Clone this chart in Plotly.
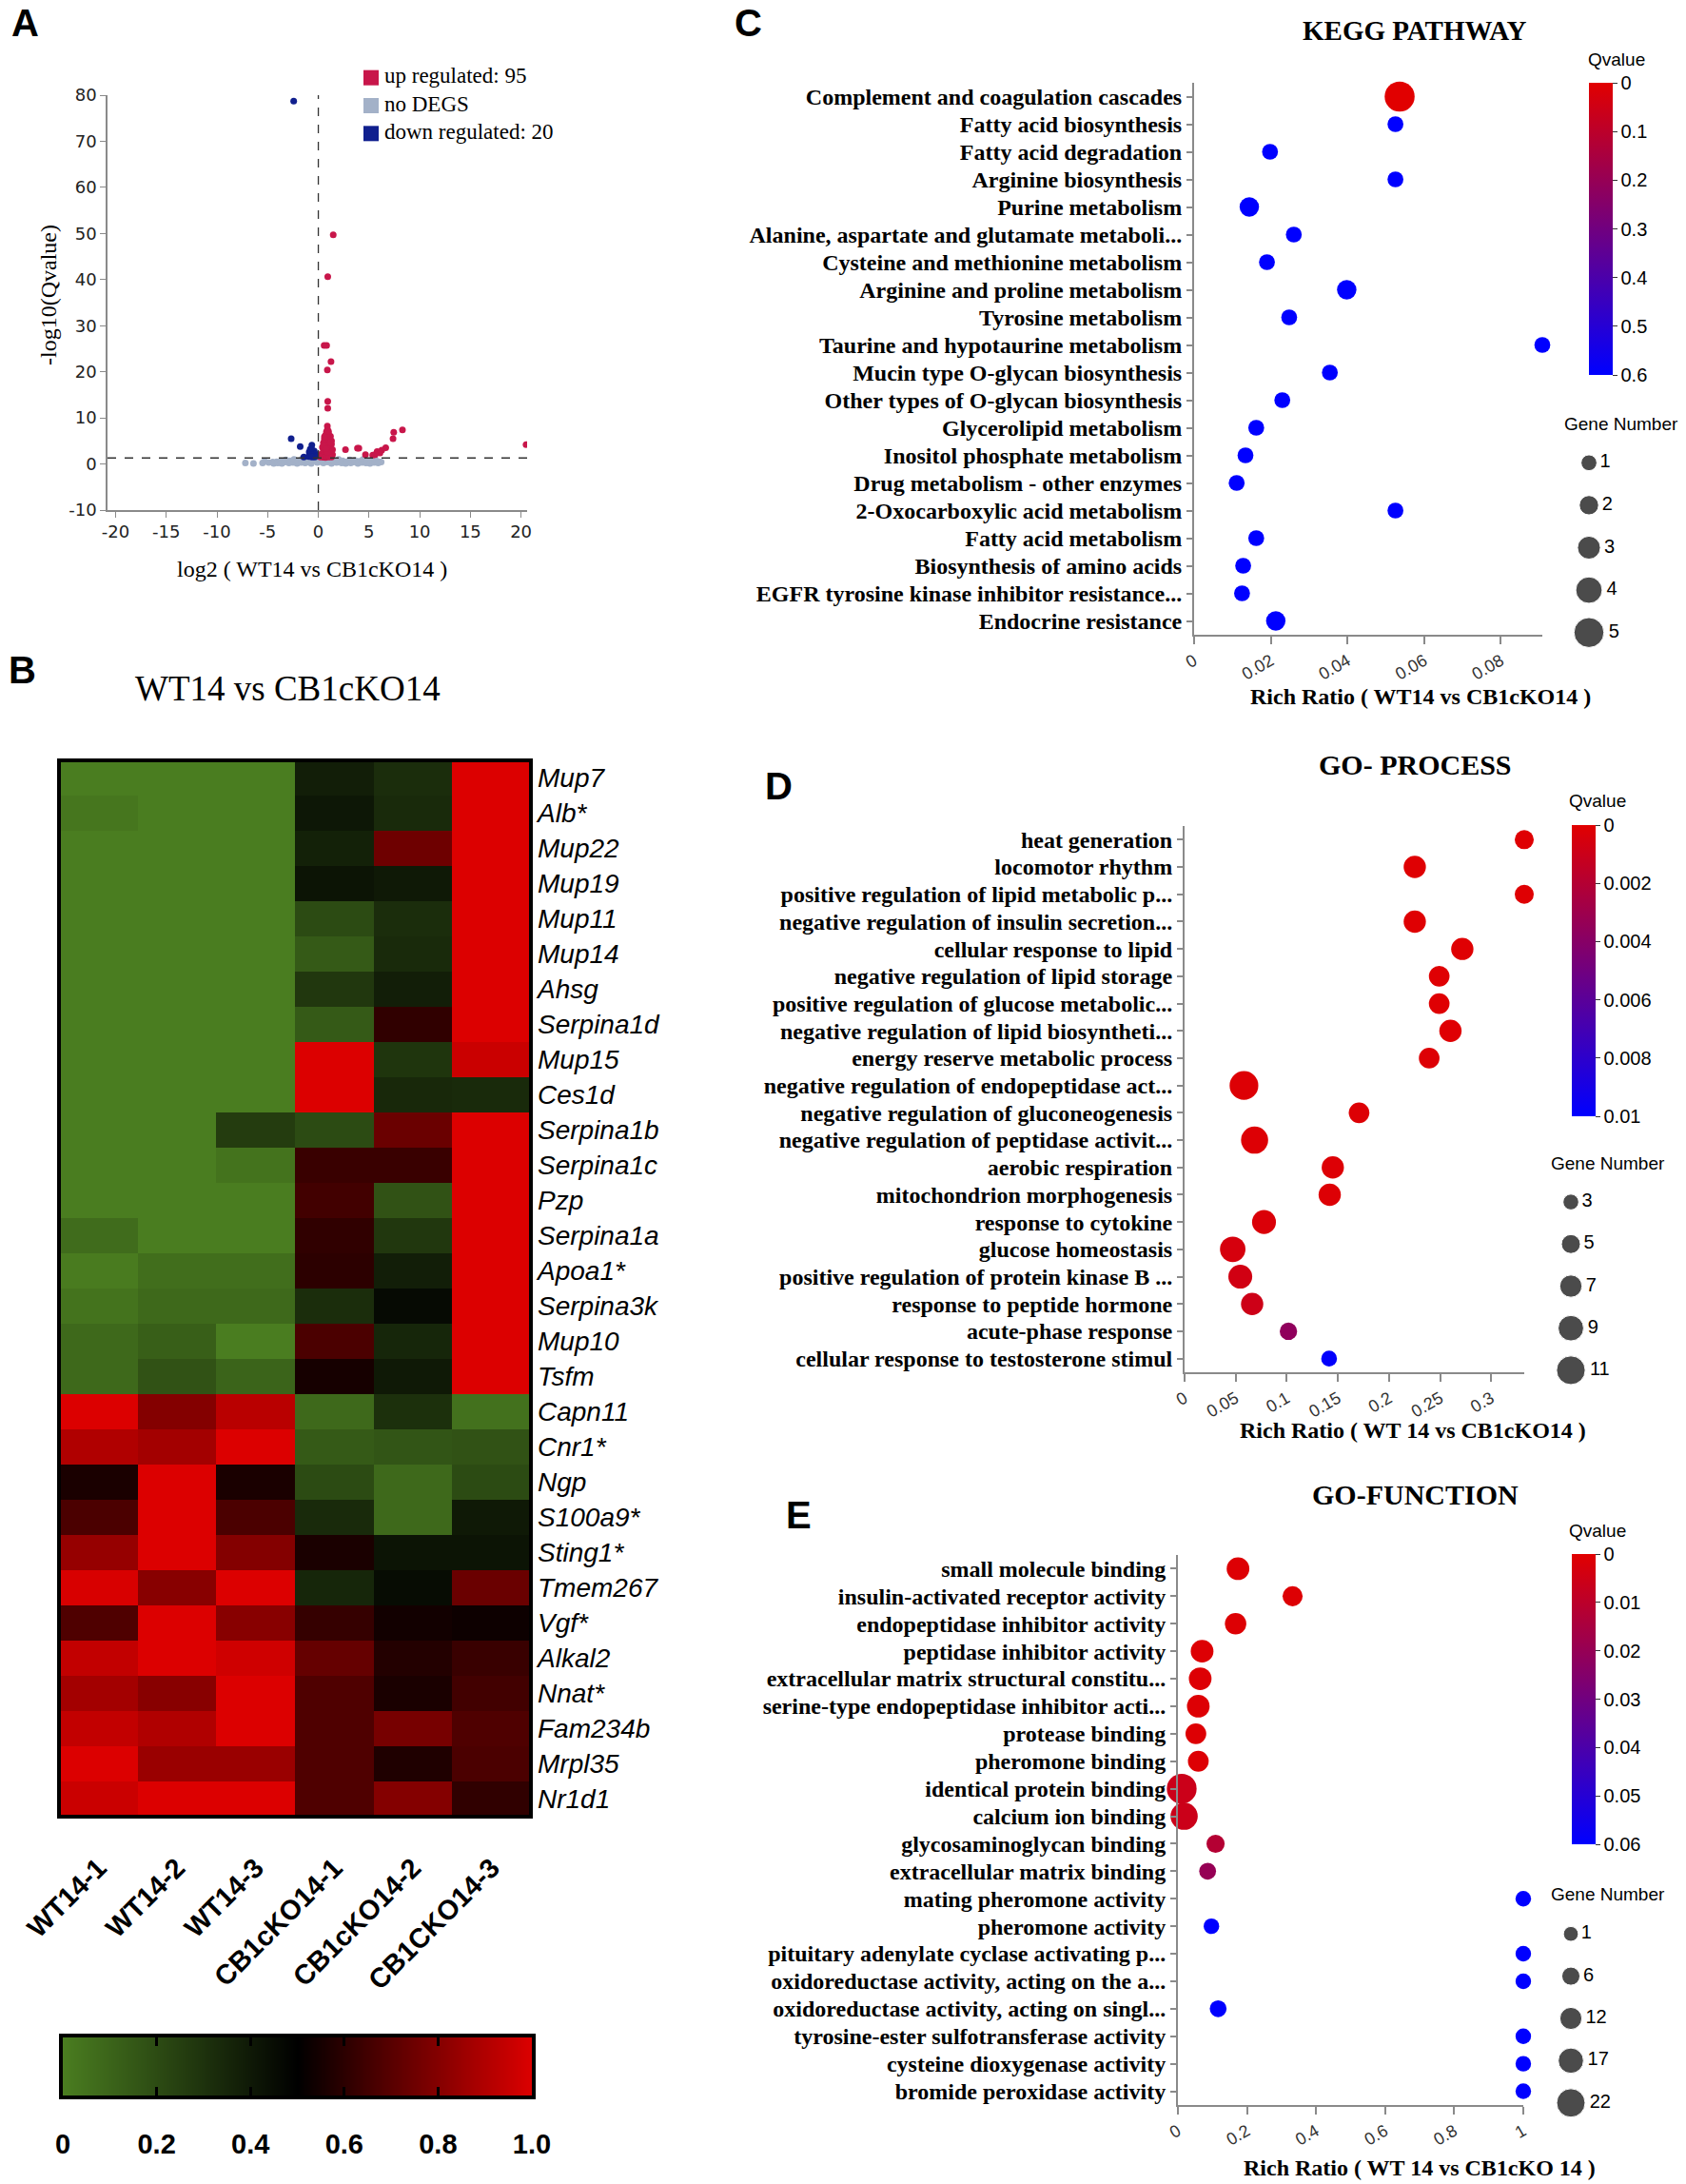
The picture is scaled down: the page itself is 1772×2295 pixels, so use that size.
import math
import plotly.graph_objects as go

W, H = 1772, 2295

# ---------------------------------------------------------------- A: volcano
UP_COUNT = 95
DOWN_COUNT = 20
Q_CUTOFF = 0.05          # horizontal threshold line = -log10(0.05)

UP_X = [1.47, 0.93, 0.57, 0.82, 1.25, 0.89, 0.93, 0.93, 0.89, 7.44, 8.30, 7.37, 6.65, 6.26,
        5.80, 6.08, 5.60, 5.37, 4.65, 3.86, 4.00, 2.68, 20.50,
        0.90, 0.80, 1.00, 0.70, 1.20, 0.90, 0.60, 1.10, 1.30, 0.80, 0.50, 1.00, 1.30, 0.70,
        1.20, 0.90, 0.40, 1.10, 0.60, 1.40, 0.80, 1.00, 0.50, 1.30, 0.70, 1.10, 0.30, 0.90,
        1.40, 0.60, 1.20, 0.40, 0.80, 1.00, 0.50, 1.30, 0.70, 0.20, 1.10, 0.90, 0.50, 1.20,
        0.60, 1.00, 0.75]
UP_Y = [49.7, 40.6, 25.7, 25.7, 22.2, 20.4, 13.6, 12.1, 8.2, 6.9, 7.4, 5.5, 3.5, 3.0,
        2.7, 2.4, 2.0, 1.9, 2.0, 3.4, 3.4, 3.1, 4.2,
        7.5, 7.0, 6.6, 6.2, 6.0, 5.8, 5.4, 5.2, 5.0, 4.9, 4.6, 4.5, 4.3, 4.1,
        3.9, 3.7, 3.6, 3.4, 3.2, 3.1, 3.0, 2.8, 2.7, 2.6, 2.4, 2.3, 2.2, 2.1,
        2.0, 1.9, 1.8, 1.7, 1.6, 1.5, 1.45, 1.5, 1.4, 1.5, 1.6, 2.5, 3.9, 4.7,
        5.9, 7.1, 3.3]
DOWN_X = [-2.43, -2.68, -1.79, -1.43, -0.64, -0.80, -0.60, -0.40, -0.90, -0.70,
          -0.50, -0.30, -0.85, -0.60, -0.40, -0.75, -0.50, -0.95, -0.35, -0.65]
DOWN_Y = [78.7, 5.5, 3.8, 1.5, 4.1, 3.2, 3.0, 2.8, 2.6, 2.5,
          2.3, 2.2, 2.0, 1.9, 1.8, 1.7, 1.6, 1.6, 1.5, 1.5]
NS_X = [-7.2, -6.4, -5.5, -5.3, -4.9, -4.5, -4.4, -4.1, -4.0, -3.7, -3.6, -3.3, -3.2, -2.9,
        -2.8, -2.5, -2.4, -2.1, -2.0, -1.7, -1.6, -1.3, -1.2, -1.0, -0.9, -0.7, -0.5, -0.3,
        -0.1, 0.1, 0.3, 0.5, 0.7, 0.9, 1.1, 1.3, 1.5, 1.8, 2.0, 2.3, 2.4, 2.7, 2.8, 3.1,
        3.2, 3.5, 3.6, 3.9, 4.0, 4.3, 4.4, 4.7, 4.8, 5.1, 5.2, 5.5, 5.6, 5.9, 6.0, 6.2]
NS_Y = [0.2, 0.1, 0.2, 0.6, 0.3, 0.4, 0.1, 0.5, 0.2, 0.6, 0.1, 0.4, 0.9, 0.2,
        0.7, 0.3, 1.0, 0.1, 0.6, 0.3, 1.1, 0.2, 0.8, 0.4, 1.2, 0.1, 0.7, 1.0,
        0.3, 0.5, 1.1, 0.2, 0.9, 0.4, 1.2, 0.1, 0.6, 0.3, 1.0, 0.2, 0.7, 0.1, 0.5, 0.9,
        0.2, 0.4, 0.8, 0.1, 0.6, 0.3, 1.0, 0.2, 0.5, 0.1, 0.8, 0.3, 1.1, 0.2, 0.5, 0.4]
VOLC_XTICKS = [-20, -15, -10, -5, 0, 5, 10, 15, 20]
VOLC_YTICKS = [-10, 0, 10, 20, 30, 40, 50, 60, 70, 80]

# ---------------------------------------------------------------- B: heatmap
SAMPLES = ["WT14-1", "WT14-2", "WT14-3", "CB1cKO14-1", "CB1cKO14-2", "CB1CKO14-3"]
GENES = ["Mup7", "Alb*", "Mup22", "Mup19", "Mup11", "Mup14", "Ahsg", "Serpina1d", "Mup15",
         "Ces1d", "Serpina1b", "Serpina1c", "Pzp", "Serpina1a", "Apoa1*", "Serpina3k",
         "Mup10", "Tsfm", "Capn11", "Cnr1*", "Ngp", "S100a9*", "Sting1*", "Tmem267",
         "Vgf*", "Alkal2", "Nnat*", "Fam234b", "Mrpl35", "Nr1d1"]
EXPR = [
    [0.00, 0.00, 0.00, 0.38, 0.32, 1.00],  # Mup7
    [0.03, 0.00, 0.00, 0.41, 0.33, 1.00],  # Alb*
    [0.00, 0.00, 0.00, 0.37, 0.75, 1.00],  # Mup22
    [0.00, 0.00, 0.00, 0.42, 0.40, 1.00],  # Mup19
    [0.00, 0.00, 0.00, 0.20, 0.32, 1.00],  # Mup11
    [0.00, 0.00, 0.00, 0.14, 0.33, 1.00],  # Mup14
    [0.00, 0.00, 0.00, 0.28, 0.38, 1.00],  # Ahsg
    [0.00, 0.00, 0.00, 0.14, 0.61, 1.00],  # Serpina1d
    [0.00, 0.00, 0.00, 1.00, 0.29, 0.96],  # Mup15
    [0.00, 0.00, 0.00, 1.00, 0.34, 0.33],  # Ces1d
    [0.00, 0.00, 0.26, 0.20, 0.74, 1.00],  # Serpina1b
    [0.00, 0.00, 0.04, 0.63, 0.63, 1.00],  # Serpina1c
    [0.00, 0.00, 0.00, 0.65, 0.17, 1.00],  # Pzp
    [0.07, 0.00, 0.00, 0.61, 0.28, 1.00],  # Serpina1a
    [0.01, 0.06, 0.06, 0.60, 0.38, 1.00],  # Apoa1*
    [0.04, 0.08, 0.08, 0.32, 0.46, 1.00],  # Serpina3k
    [0.08, 0.12, 0.00, 0.67, 0.35, 1.00],  # Mup10
    [0.08, 0.17, 0.10, 0.55, 0.40, 1.00],  # Tsfm
    [1.00, 0.80, 0.92, 0.08, 0.31, 0.05],  # Capn11
    [0.90, 0.87, 1.00, 0.14, 0.16, 0.17],  # Cnr1*
    [0.56, 1.00, 0.56, 0.20, 0.08, 0.20],  # Ngp
    [0.67, 1.00, 0.67, 0.33, 0.08, 0.40],  # S100a9*
    [0.84, 1.00, 0.80, 0.56, 0.42, 0.42],  # Sting1*
    [0.99, 0.81, 1.00, 0.35, 0.45, 0.74],  # Tmem267
    [0.68, 1.00, 0.81, 0.62, 0.54, 0.53],  # Vgf*
    [0.94, 1.00, 0.97, 0.73, 0.58, 0.63],  # Alkal2
    [0.87, 0.81, 1.00, 0.68, 0.56, 0.65],  # Nnat*
    [0.94, 0.90, 1.00, 0.68, 0.77, 0.68],  # Fam234b
    [1.00, 0.85, 0.85, 0.68, 0.57, 0.67],  # Mrpl35
    [0.96, 1.00, 1.00, 0.68, 0.80, 0.61],  # Nr1d1
]
HEAT_TICKS = [0, 0.2, 0.4, 0.6, 0.8, 1.0]
HEAT_TICKTEXT = ["0", "0.2", "0.4", "0.6", "0.8", "1.0"]

# ---------------------------------------------------------------- C: KEGG
KEGG_TERMS = ["Complement and coagulation cascades", "Fatty acid biosynthesis",
              "Fatty acid degradation", "Arginine biosynthesis", "Purine metabolism",
              "Alanine, aspartate and glutamate metaboli...",
              "Cysteine and methionine metabolism", "Arginine and proline metabolism",
              "Tyrosine metabolism", "Taurine and hypotaurine metabolism",
              "Mucin type O-glycan biosynthesis", "Other types of O-glycan biosynthesis",
              "Glycerolipid metabolism", "Inositol phosphate metabolism",
              "Drug metabolism - other enzymes", "2-Oxocarboxylic acid metabolism",
              "Fatty acid metabolism", "Biosynthesis of amino acids",
              "EGFR tyrosine kinase inhibitor resistance...", "Endocrine resistance"]
KEGG_RATIO = [0.0536, 0.0525, 0.0198, 0.0525, 0.0144, 0.0260, 0.0190, 0.0398, 0.0248, 0.0908,
              0.0354, 0.0230, 0.0162, 0.0134, 0.0111, 0.0525, 0.0162, 0.0128, 0.0125, 0.0213]
KEGG_GENES = [5, 1, 1, 1, 2, 1, 1, 2, 1, 1, 1, 1, 1, 1, 1, 1, 1, 1, 1, 2]
KEGG_Q = [0.001, 0.6, 0.6, 0.6, 0.6, 0.6, 0.6, 0.6, 0.6, 0.6,
          0.6, 0.6, 0.6, 0.6, 0.6, 0.6, 0.6, 0.6, 0.6, 0.6]
KEGG_XTICKS = [0, 0.02, 0.04, 0.06, 0.08]
KEGG_QTICKS = [0, 0.1, 0.2, 0.3, 0.4, 0.5, 0.6]
KEGG_LEGEND = [1, 2, 3, 4, 5]

# ---------------------------------------------------------------- D: GO process
BP_TERMS = ["heat generation", "locomotor rhythm", "positive regulation of lipid metabolic p...",
            "negative regulation of insulin secretion...", "cellular response to lipid",
            "negative regulation of lipid storage", "positive regulation of glucose metabolic...",
            "negative regulation of lipid biosyntheti...", "energy reserve metabolic process",
            "negative regulation of endopeptidase act...", "negative regulation of gluconeogenesis",
            "negative regulation of peptidase activit...", "aerobic respiration",
            "mitochondrion morphogenesis", "response to cytokine", "glucose homeostasis",
            "positive regulation of protein kinase B ...", "response to peptide hormone",
            "acute-phase response", "cellular response to testosterone stimul"]
BP_RATIO = [0.3323, 0.2252, 0.3323, 0.2252, 0.2717, 0.2491, 0.2491, 0.2601, 0.2393, 0.0581,
            0.1707, 0.0685, 0.1450, 0.1420, 0.0777, 0.0471, 0.0545, 0.0661, 0.1016, 0.1414]
BP_GENES = [5, 7, 5, 7, 7, 6, 6, 7, 6, 11, 6, 10, 7, 7, 8, 9, 8, 7, 4, 3]
BP_Q = [0.0001, 0.0001, 0.0001, 0.0001, 0.0001, 0.0001, 0.0001, 0.0001, 0.0002, 0.0002,
        0.0002, 0.0002, 0.0002, 0.0002, 0.0003, 0.0005, 0.0007, 0.0009, 0.0036, 0.0099]
BP_XTICKS = [0, 0.05, 0.1, 0.15, 0.2, 0.25, 0.3]
BP_QTICKS = [0, 0.002, 0.004, 0.006, 0.008, 0.01]
BP_LEGEND = [3, 5, 7, 9, 11]

# ---------------------------------------------------------------- E: GO function
MF_TERMS = ["small molecule binding", "insulin-activated receptor activity",
            "endopeptidase inhibitor activity", "peptidase inhibitor activity",
            "extracellular matrix structural constitu...",
            "serine-type endopeptidase inhibitor acti...", "protease binding",
            "pheromone binding", "identical protein binding", "calcium ion binding",
            "glycosaminoglycan binding", "extracellular matrix binding",
            "mating pheromone activity", "pheromone activity",
            "pituitary adenylate cyclase activating p...",
            "oxidoreductase activity, acting on the a...",
            "oxidoreductase activity, acting on singl...",
            "tyrosine-ester sulfotransferase activity", "cysteine dioxygenase activity",
            "bromide peroxidase activity"]
MF_RATIO = [0.174, 0.332, 0.167, 0.070, 0.0645, 0.059, 0.052, 0.059, 0.011, 0.018,
            0.109, 0.086, 1.0, 0.097, 1.0, 1.0, 0.1165, 1.0, 1.0, 1.0]
MF_GENES = [13, 9, 11, 13, 13, 13, 10, 10, 24, 20, 6, 4, 2, 2, 2, 2, 4, 2, 2, 2]
MF_Q = [0.001, 0.001, 0.001, 0.001, 0.001, 0.001, 0.001, 0.001, 0.006, 0.006,
        0.012, 0.020, 0.06, 0.06, 0.06, 0.06, 0.06, 0.06, 0.06, 0.06]
MF_XTICKS = [0, 0.2, 0.4, 0.6, 0.8, 1]
MF_QTICKS = [0, 0.01, 0.02, 0.03, 0.04, 0.05, 0.06]
MF_LEGEND = [1, 6, 12, 17, 22]

# ---------------------------------------------------------------- styles
SERIF = "Liberation Serif"
SANS = "Liberation Sans"
AXIS_GREY = "#8a8a8a"
UP_COLOR = "#c8164a"
DOWN_COLOR = "#101f8e"
NS_COLOR = "#a3b1c8"
HEAT_SCALE = [[0, "rgb(74,125,32)"], [0.5, "rgb(0,0,0)"], [1, "rgb(220,0,0)"]]
Q_SCALE = [[0, "rgb(0,0,255)"], [1, "rgb(225,0,0)"]]

# marker diameter = s0 + k * gene number (one rule per panel, legend uses the same)
KEGG_S = (13.0, 3.7)
BP_S = (11.5, 1.7)
MF_S = (15.0, 0.68)


def xd(a, b):
    return [a / W, b / W]


def yd(top, bottom):
    return [1 - bottom / H, 1 - top / H]


def fmt(v):
    return f"{v:g}"


fig = go.Figure()

# ---- A
fig.add_trace(go.Scatter(x=NS_X, y=NS_Y, mode="markers", xaxis="x", yaxis="y",
                         marker=dict(color=NS_COLOR, size=7), showlegend=False))
fig.add_trace(go.Scatter(x=UP_X, y=UP_Y, mode="markers", xaxis="x", yaxis="y",
                         marker=dict(color=UP_COLOR, size=7), showlegend=False))
fig.add_trace(go.Scatter(x=DOWN_X, y=DOWN_Y, mode="markers", xaxis="x", yaxis="y",
                         marker=dict(color=DOWN_COLOR, size=7), showlegend=False))
# legend block: squares, then labels a little to the right (x10 axis: 10 px per unit)
fig.add_trace(go.Scatter(
    x=[0, 0, 0], y=[0, 1, 2], mode="markers", xaxis="x10", yaxis="y10",
    marker=dict(color=[UP_COLOR, NS_COLOR, DOWN_COLOR], size=16, symbol="square"),
    cliponaxis=False, showlegend=False))
fig.add_trace(go.Scatter(
    x=[1.4, 1.4, 1.4], y=[0, 1, 2], mode="text", xaxis="x10", yaxis="y10",
    text=[f"up regulated: {UP_COUNT}", "no DEGS", f"down regulated: {DOWN_COUNT}"],
    textposition="middle right", textfont=dict(family=SERIF, size=23, color="black"),
    cliponaxis=False, showlegend=False))

q_line = -math.log10(Q_CUTOFF)
fig.add_shape(type="line", xref="x", yref="y domain", x0=0, x1=0, y0=0, y1=1,
              line=dict(color="#333", width=1.3, dash="dash"))
fig.add_shape(type="line", xref="x domain", yref="y", x0=0, x1=1, y0=q_line, y1=q_line,
              line=dict(color="#333", width=1.3, dash="dash"))

# ---- B
fig.add_trace(go.Heatmap(z=EXPR, x=SAMPLES, y=GENES, xaxis="x2", yaxis="y2",
                         coloraxis="coloraxis", xgap=0, ygap=0))
fig.add_shape(type="rect", xref="x2 domain", yref="y2 domain", x0=0, x1=1, y0=0, y1=1,
              line=dict(color="black", width=4))
# horizontal colour key drawn as its own strip so ticks sit inside top and bottom
fig.add_trace(go.Heatmap(z=[HEAT_TICKS, HEAT_TICKS], x=HEAT_TICKS, y=[0, 1], zsmooth="best",
                         xaxis="x9", yaxis="y9", coloraxis="coloraxis"))


# ---- C, D, E dot plots
def dot_panel(n, terms, ratio, genes, qv, s0, k):
    fig.add_trace(go.Scatter(
        x=ratio, y=terms, mode="markers", xaxis=f"x{n}", yaxis=f"y{n}",
        marker=dict(size=[s0 + k * g for g in genes], color=[-q for q in qv],
                    coloraxis=f"coloraxis{n - 1}", line=dict(width=0), opacity=1),
        cliponaxis=False, showlegend=False))


def size_legend(n, values, s0, k):
    fig.add_trace(go.Scatter(
        x=[0] * len(values), y=list(range(len(values))), mode="markers+text",
        xaxis=f"x{n}", yaxis=f"y{n}", text=[str(v) for v in values],
        textposition="middle right", textfont=dict(family=SANS, size=20, color="black"),
        marker=dict(size=[s0 + k * v for v in values], color="black"),
        cliponaxis=False, showlegend=False))


dot_panel(3, KEGG_TERMS, KEGG_RATIO, KEGG_GENES, KEGG_Q, *KEGG_S)
dot_panel(4, BP_TERMS, BP_RATIO, BP_GENES, BP_Q, *BP_S)
dot_panel(5, MF_TERMS, MF_RATIO, MF_GENES, MF_Q, *MF_S)
size_legend(6, KEGG_LEGEND, *KEGG_S)
size_legend(7, BP_LEGEND, *BP_S)
size_legend(8, MF_LEGEND, *MF_S)


def dot_xaxis(dom, anchor, ratio, ticks):
    return dict(domain=dom, anchor=anchor, range=[0, max(ratio)], tickvals=ticks,
                ticktext=[fmt(t) for t in ticks], tickangle=-30, ticks="outside", ticklen=8,
                tickcolor=AXIS_GREY, tickwidth=1.5, showline=True, linecolor=AXIS_GREY,
                linewidth=2, showgrid=False, zeroline=False, automargin=False,
                tickfont=dict(family=SANS, size=18, color="#333"))


def dot_yaxis(dom, anchor, terms):
    return dict(domain=dom, anchor=anchor, type="category", categoryorder="array",
                categoryarray=terms, tickmode="array", tickvals=terms, ticktext=terms,
                range=[len(terms) - 0.5, -0.5], ticks="outside",
                ticklen=6, tickcolor=AXIS_GREY, tickwidth=1.5, showline=True,
                linecolor=AXIS_GREY, linewidth=2, showgrid=False, zeroline=False,
                automargin=False,
                tickfont=dict(family=SERIF, size=24, color="black", weight="bold"))


def hidden_axes(n, cx0, cx1, top, bottom, xr, yr):
    xa = dict(domain=xd(cx0, cx1), anchor=f"y{n}", range=xr, visible=False, automargin=False)
    ya = dict(domain=yd(top, bottom), anchor=f"x{n}", range=yr, visible=False, automargin=False)
    return xa, ya


def q_colorbar(x, top, bottom, ticks):
    return dict(x=x / W, xanchor="left", y=1 - top / H, yanchor="top", len=bottom - top,
                lenmode="pixels", thickness=25, outlinewidth=0, xpad=0, ypad=0,
                ticks="outside", ticklen=5, tickcolor="#333", tickvals=[-t for t in ticks],
                ticktext=[fmt(t) for t in ticks],
                tickfont=dict(family=SANS, size=20, color="black"))


lx6, ly6 = hidden_axes(6, 1650, 1690, 464, 687, [-1, 1], [4.5, -0.5])
lx7, ly7 = hidden_axes(7, 1631, 1671, 1241, 1462, [-1, 1], [4.5, -0.5])
lx8, ly8 = hidden_axes(8, 1631, 1671, 2010, 2232, [-1, 1], [4.5, -0.5])
lx10, ly10 = hidden_axes(10, 380, 600, 67, 155, [-1, 21], [2.5, -0.5])

tick_a = dict(ticks="outside", ticklen=6, tickcolor=AXIS_GREY, showline=True, linecolor=AXIS_GREY,
              linewidth=1.5, showgrid=False, zeroline=False, automargin=False,
              tickfont=dict(family="DejaVu Sans", size=18, color="#222"))

fig.update_layout(
    template="none",
    width=W, height=H, margin=dict(l=0, r=0, t=0, b=0, autoexpand=False),
    paper_bgcolor="white", plot_bgcolor="white", showlegend=False,
    font=dict(family=SANS, color="black"),
    xaxis=dict(domain=xd(113, 554), anchor="y", range=[-20.8, 20.6], tickvals=VOLC_XTICKS,
               ticktext=[str(v) for v in VOLC_XTICKS], **tick_a),
    yaxis=dict(domain=yd(100, 536), anchor="x", range=[-10, 80], tickvals=VOLC_YTICKS,
               ticktext=[str(v) for v in VOLC_YTICKS], **tick_a),
    xaxis2=dict(domain=xd(62, 558), anchor="y2", type="category", tickangle=-45,
                ticks="", showgrid=False, zeroline=False, ticklabelstandoff=30,
                automargin=False,
                tickfont=dict(family=SANS, size=29, color="black", weight="bold")),
    yaxis2=dict(domain=yd(799, 1909), anchor="x2", type="category", side="right",
                autorange="reversed", ticks="", showgrid=False, zeroline=False,
                tickmode="array", tickvals=GENES, ticktext=[f"<i>{g}</i>" for g in GENES],
                ticklabelstandoff=6, automargin=False,
                tickfont=dict(family=SANS, size=28, color="black")),
    xaxis3=dot_xaxis(xd(1255, 1621), "y3", KEGG_RATIO, KEGG_XTICKS),
    yaxis3=dot_yaxis(yd(87, 667), "x3", KEGG_TERMS),
    xaxis4=dot_xaxis(xd(1245, 1602), "y4", BP_RATIO, BP_XTICKS),
    yaxis4=dot_yaxis(yd(868, 1442), "x4", BP_TERMS),
    xaxis5=dot_xaxis(xd(1238, 1601), "y5", MF_RATIO, MF_XTICKS),
    yaxis5=dot_yaxis(yd(1634, 2212), "x5", MF_TERMS),
    xaxis6=lx6, yaxis6=ly6, xaxis7=lx7, yaxis7=ly7, xaxis8=lx8, yaxis8=ly8,
    xaxis10=lx10, yaxis10=ly10,
    xaxis9=dict(domain=xd(66, 559), anchor="y9", range=[0, 1], tickvals=HEAT_TICKS,
                ticktext=HEAT_TICKTEXT, ticks="inside", ticklen=9, tickwidth=3,
                tickcolor="black", showline=True, linewidth=4, linecolor="black",
                mirror="ticks", showgrid=False, zeroline=False, ticklabelstandoff=22,
                automargin=False,
                tickfont=dict(family=SANS, size=29, color="black", weight="bold")),
    yaxis9=dict(domain=yd(2141, 2202), anchor="x9", range=[0, 1], showticklabels=False,
                ticks="", showline=True, linewidth=4, linecolor="black", mirror=True,
                showgrid=False, zeroline=False, automargin=False),
    coloraxis=dict(cmin=0, cmax=1, colorscale=HEAT_SCALE, showscale=False),
    coloraxis2=dict(cmin=-max(KEGG_QTICKS), cmax=0, colorscale=Q_SCALE,
                    colorbar=q_colorbar(1670, 87, 394, KEGG_QTICKS)),
    coloraxis3=dict(cmin=-max(BP_QTICKS), cmax=0, colorscale=Q_SCALE,
                    colorbar=q_colorbar(1652, 867, 1173, BP_QTICKS)),
    coloraxis4=dict(cmin=-max(MF_QTICKS), cmax=0, colorscale=Q_SCALE,
                    colorbar=q_colorbar(1652, 1633, 1938, MF_QTICKS)),
)


def note(text, px, py, size, family=SERIF, weight="normal", angle=0):
    fig.add_annotation(text=text, x=px / W, y=1 - py / H, xref="paper", yref="paper",
                       xanchor="center", yanchor="middle", showarrow=False, textangle=angle,
                       font=dict(family=family, size=size, color="black", weight=weight))


for letter, px, py in [("A", 26, 24), ("B", 23, 704), ("C", 786, 24), ("D", 818, 826),
                       ("E", 839, 1592)]:
    note(letter, px, py, 40, family=SANS, weight="bold")

note("log2 ( WT14 vs CB1cKO14 )", 328, 598, 24)
note("-log10(Qvalue)", 51, 310, 24, angle=-90)
note("WT14 vs CB1cKO14", 302, 723, 37)

note("KEGG PATHWAY", 1487, 32, 29, weight="bold")
note("GO- PROCESS", 1487, 803, 30, weight="bold")
note("GO-FUNCTION", 1487, 1570, 30, weight="bold")
note("Rich Ratio ( WT14 vs CB1cKO14 )", 1493, 732, 24, weight="bold")
note("Rich Ratio ( WT 14 vs CB1cKO14 )", 1485, 1503, 24, weight="bold")
note("Rich Ratio ( WT 14 vs CB1cKO 14 )", 1492, 2278, 24, weight="bold")

for px, py in [(1699, 62), (1679, 842), (1679, 1608)]:
    note("Qvalue", px, py, 19, family=SANS)
for px, py in [(1704, 445), (1690, 1222), (1690, 1990)]:
    note("Gene Number", px, py, 19, family=SANS)

# the page body keeps no default margin, so the figure starts at the window corner
fig.write_html("out.html", config={"displayModeBar": False},
               post_script="document.body.style.margin='0';")
